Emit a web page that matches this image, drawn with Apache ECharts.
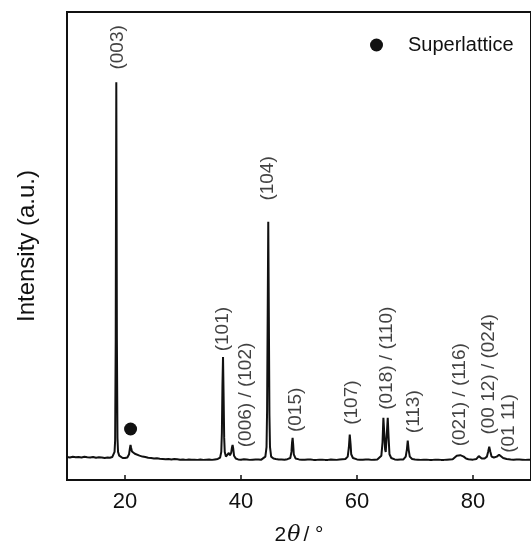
<!DOCTYPE html>
<html>
<head>
<meta charset="utf-8">
<script src="https://cdn.jsdelivr.net/npm/echarts@6/dist/echarts.min.js"></script>
<style>
html,body{margin:0;padding:0;background:#fff;}
#chart{width:531px;height:551px;}
</style>
</head>
<body>
<div id="chart"></div>
<script>
var twoTheta = [
 10.0,10.5,11.0,11.5,12.0,12.5,13.0,13.5,14.0,14.5,15.0,15.5,16.0,16.5,17.0,17.4,17.8,18.0,18.2,18.3,
 18.4,18.45,18.5,18.55,18.6,18.7,18.8,19.0,19.3,19.6,20.0,20.4,20.7,20.85,20.95,21.05,21.2,21.4,21.7,22.0,
 22.5,23.0,23.5,24.0,24.5,25.0,25.5,26.0,26.5,27.0,27.5,28.0,28.5,29.0,29.5,30.0,30.5,31.0,31.5,32.0,
 32.5,33.0,33.5,34.0,34.5,35.0,35.5,36.0,36.4,36.6,36.7,36.8,36.9,37.0,37.1,37.2,37.4,37.7,37.9,38.0,
 38.1,38.3,38.45,38.55,38.65,38.8,39.1,39.5,40.0,40.5,41.0,41.5,42.0,42.5,43.0,43.5,43.8,44.2,44.4,44.5,
 44.6,44.7,44.8,44.9,45.0,45.2,45.6,46.0,46.5,47.0,47.5,48.0,48.5,48.7,48.8,48.9,49.0,49.1,49.4,50.0,
 50.5,51.0,51.5,52.0,52.5,53.0,53.5,54.0,54.5,55.0,55.5,56.0,56.5,57.0,57.5,58.0,58.4,58.6,58.75,58.9,
 59.0,59.3,60.0,60.5,61.0,61.5,62.0,62.5,63.0,63.5,63.8,64.2,64.4,64.55,64.7,64.85,64.95,65.1,65.3,65.45,
 65.6,65.9,66.5,67.0,67.5,68.0,68.4,68.6,68.75,68.9,69.1,69.5,70.0,70.5,71.0,71.5,72.0,72.5,73.0,73.5,
 74.0,74.5,75.0,75.5,76.0,76.5,76.8,77.2,77.5,77.8,78.1,78.4,78.8,79.2,79.6,80.0,80.6,81.0,81.2,81.5,
 82.0,82.4,82.6,82.8,83.0,83.2,83.6,84.1,84.5,84.8,85.2,85.8,86.5,87.0,87.5,88.0,88.5,89.0,89.5,90.0
];
var intensity = [
 4.9,4.8,4.95,4.85,4.9,4.8,4.95,4.85,4.8,4.9,4.75,4.85,4.8,4.7,4.8,4.75,4.9,5.2,6.0,8.5,
 30,60,85,60,30,9,6.0,5.2,4.8,4.7,4.7,4.8,5.5,6.8,7.5,6.9,6.1,5.8,5.6,5.4,
 5.2,5.0,4.9,4.75,4.7,4.6,4.65,4.55,4.5,4.45,4.5,4.4,4.5,4.45,4.35,4.4,4.3,4.4,4.35,4.35,
 4.3,4.4,4.3,4.35,4.4,4.3,4.4,4.5,4.8,6.0,10,20,26.3,18,9,6,5,5.2,5.8,5.5,
 5.3,5.8,7.0,7.5,6.8,5.2,4.6,4.4,4.35,4.45,4.4,4.3,4.35,4.4,4.4,4.35,4.5,5.0,7.0,15,
 35,55.2,35,14,7,5,4.6,4.5,4.4,4.4,4.35,4.45,4.7,6.0,8.0,9.0,7.5,5.5,4.6,4.4,
 4.35,4.35,4.4,4.4,4.3,4.3,4.35,4.35,4.3,4.3,4.4,4.35,4.3,4.4,4.45,4.5,5.0,7.0,9.7,7.5,
 5.5,4.7,4.4,4.35,4.35,4.4,4.4,4.3,4.35,4.4,4.5,5.2,8.0,13.3,10,6.5,6.0,9.0,13.3,9.0,
 5.5,4.7,4.4,4.35,4.4,4.4,5.0,6.5,8.4,6.5,5.0,4.5,4.4,4.35,4.3,4.35,4.35,4.3,4.3,4.35,
 4.35,4.3,4.3,4.35,4.4,4.45,4.6,5.2,5.5,5.3,5.4,5.0,4.6,4.45,4.4,4.35,4.5,5.1,5.0,4.6,
 4.6,5.0,6.0,7.1,6.0,5.0,4.8,5.0,5.4,5.0,4.7,4.5,4.4,4.35,4.4,4.4,4.35,4.3,4.35,4.35
];
// reflection labels: text, 2θ of label centre, intensity at text start
var labelTexts = ['(003)','(101)','(006) / (102)','(104)','(015)','(107)','(018) / (110)','(113)','(021) / (116)','(00 12) / (024)','(01 11)'];
var labelX = [18.7, 36.8, 40.8, 44.7, 49.4, 59.15, 65.2, 69.8, 77.8, 82.8, 86.1];
var labelY = [87.7, 27.5, 7.0, 59.7, 10.25, 11.8, 15.0, 10.0, 7.2, 9.7, 5.8];
// superlattice reflection marker
var superX = [20.96];
var superY = [10.9];
var xTicks = [20, 40, 60, 80];

var FONT = 'Liberation Sans, Arial, Helvetica, sans-serif';
var INK = '#111111';

var lineData = twoTheta.map(function (x, i) { return [x, intensity[i]]; });
var labelData = labelTexts.map(function (t, i) { return { name: t, value: [labelX[i], labelY[i]] }; });
var superData = superX.map(function (x, i) { return [x, superY[i]]; });

var chart = echarts.init(document.getElementById('chart'));
chart.setOption({
  animation: false,
  backgroundColor: '#fff',
  textStyle: { fontFamily: FONT },
  grid: { left: 67, right: -8, top: 12, bottom: 67, show: true, borderColor: INK, borderWidth: 2, backgroundColor: 'transparent' },
  legend: {
    data: ['Superlattice'],
    left: 365, top: 30,
    icon: 'circle', itemWidth: 13, itemHeight: 13, itemGap: 10,
    itemStyle: { color: INK, opacity: 1 },
    textStyle: { fontSize: 20, color: INK, fontFamily: FONT, padding: [0, 0, 0, 20] }
  },
  xAxis: {
    type: 'value', min: 10, max: 90,
    name: '{n|2}{i|θ}{n|/ °}',
    nameLocation: 'middle', nameGap: 44,
    nameTextStyle: {
      rich: {
        n: { fontSize: 21, color: INK, fontFamily: FONT },
        i: { fontSize: 22, color: INK, fontFamily: 'DejaVu Serif, serif', fontStyle: 'italic', padding: [0, 3, 0, 1] }
      }
    },
    axisLine: { show: true, onZero: false, lineStyle: { color: INK, width: 2 } },
    axisTick: { show: true, inside: true, length: 5, customValues: xTicks, lineStyle: { color: INK, width: 1.5 } },
    axisLabel: { show: true, customValues: xTicks, fontSize: 22, color: INK, margin: 11, fontFamily: FONT },
    splitLine: { show: false }
  },
  yAxis: {
    type: 'value', min: 0, max: 100,
    name: 'Intensity (a.u.)',
    nameLocation: 'middle', nameGap: 28,
    nameTextStyle: { fontSize: 24, color: INK, fontFamily: FONT },
    axisLine: { show: true, onZero: false, lineStyle: { color: INK, width: 2 } },
    axisTick: { show: false },
    axisLabel: { show: false },
    splitLine: { show: false }
  },
  series: [
    {
      type: 'line', name: 'pattern', data: lineData,
      showSymbol: false, symbol: 'none', smooth: false,
      lineStyle: { color: INK, width: 2 },
      clip: true, z: 3
    },
    {
      type: 'scatter', name: 'labels', data: labelData,
      symbolSize: 0, silent: true,
      label: {
        show: true, formatter: '{b}', rotate: 90, position: [0, 0],
        align: 'left', verticalAlign: 'middle',
        fontSize: 19, color: INK, fontFamily: FONT
      },
      z: 4
    },
    {
      type: 'scatter', name: 'Superlattice', data: superData,
      symbol: 'circle', symbolSize: 13,
      itemStyle: { color: INK, opacity: 1 },
      z: 5
    }
  ]
});
</script>
</body>
</html>
